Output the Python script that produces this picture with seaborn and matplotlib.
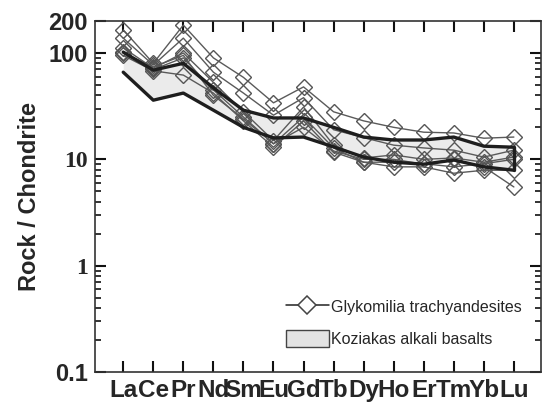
import numpy as np
import pandas as pd
import seaborn as sns
import matplotlib.pyplot as plt
from matplotlib.lines import Line2D
from matplotlib.patches import Patch
import matplotlib.ticker as ticker

sns.set_style("ticks")
plt.rcParams["font.family"] = ["Liberation Sans", "DejaVu Sans"]

# REE order
elements = ["La", "Ce", "Pr", "Nd", "Sm", "Eu", "Gd", "Tb", "Dy", "Ho", "Er", "Tm", "Yb", "Lu"]

# Glykomilia trachyandesites (chondrite normalised)
glyk_a = [165, 80, 183, 90, 59, 34, 48, 28, 23, 20, 18, 17.7, 15.8, 16.2]
glyk_b = [138, 77, 138, 66, 42, 26, 38, 19, 16, 13.6, 12.8, 12.2, 10.5, 12.2]
glyk_c = [112, 72, 100, 53, 28, 15, 31, 13.6, 10.3, 11, 10, 10.3, 9.4, 10.5]
glyk_d = [102, 70, 90, 45, 25, 14, 25, 12.8, 9.4, 9.4, 9.1, 8.5, 9.1, 10]
glyk_e = [95, 68, 62, 42, 23, 13, 23, 11.7, 9.4, 8.5, 8.5, 7.4, 7.9, 7.9]
glyk_f = [100, 74, 95, 40, 24, 14, 20, 12, 10, 10, 9, 10, 8.5, 5.5]
samples = [glyk_a, glyk_b, glyk_c, glyk_d, glyk_e, glyk_f]

# Koziakas alkali basalts field
kozi_upper = [102, 69, 80, 47, 29, 24.5, 24.5, 20, 16.2, 15.2, 15.2, 16.2, 13.3, 13.0]
kozi_lower = [66, 36, 42, 29, 20, 15.9, 16.2, 13.1, 10.5, 9.4, 9.0, 9.85, 8.5, 7.9]

pos = np.arange(len(elements))

fig = plt.figure(figsize=(5.42, 4.03), dpi=100)
ax = fig.add_axes([0.1747, 0.0769, 0.8233, 0.871])

# field
ax.fill_between(pos, kozi_lower, kozi_upper, color="#ebebeb", lw=0, zorder=1)

# samples
rows = []
for i, s in enumerate(samples):
    for p, v in zip(pos, s):
        rows.append({"sample": i, "pos": p, "value": v})
df = pd.DataFrame(rows)
for i, g in df.groupby("sample"):
    sns.lineplot(data=g, x="pos", y="value", ax=ax, color="#5a5a5a", lw=1.0,
                 marker="D", markersize=8.5, markerfacecolor="none",
                 markeredgecolor="#555555", markeredgewidth=1.0, zorder=2)

# field outline
ax.plot(pos, kozi_upper, color="#1e1e1e", lw=2.4, zorder=3)
ax.plot(pos, kozi_lower, color="#1e1e1e", lw=2.4, zorder=3)
ax.plot([pos[-1], pos[-1]], [kozi_lower[-1], kozi_upper[-1]], color="#1e1e1e", lw=2.4, zorder=3)

ax.set_yscale("log")
ax.set_ylim(0.1, 200)
ax.set_xlim(-0.95, 13.9)

ax.set_xticks(pos, labels=elements)
ax.set_yticks([0.1, 1, 10, 100, 200], labels=["0.1", "1", "10", "100", "200"])
ax.yaxis.set_minor_locator(ticker.LogLocator(base=10, subs=np.arange(2, 10)))
ax.yaxis.set_minor_formatter(ticker.NullFormatter())

ax.tick_params(axis="both", which="both", direction="in", top=True, right=True, color="#111111")
ax.tick_params(axis="x", which="major", length=8, width=1.5, labelsize=17.5, pad=5)
ax.tick_params(axis="y", which="major", length=8, width=1.5, labelsize=17, pad=5)
ax.tick_params(axis="y", which="minor", length=4, width=1.2)
for lbl in ax.get_xticklabels() + ax.get_yticklabels():
    lbl.set_fontweight("bold")
for lbl in ax.get_yticklabels():
    if lbl.get_text() in ("1", "10"):
        lbl.set_family("Liberation Serif")

for sp in ax.spines.values():
    sp.set_color("#333333")
    sp.set_linewidth(1.2)

ax.set_xlabel("")
ax.set_ylabel("Rock / Chondrite", fontsize=17, fontweight="bold")
ax.yaxis.set_label_coords(-0.12, 0.5)

handles = [
    Line2D([0], [0], color="#222222", lw=1.1, marker="D", markersize=9,
           markerfacecolor="white", markeredgecolor="#444444", markeredgewidth=1.1),
    Patch(facecolor="#e3e3e3", edgecolor="#444444", lw=1.0),
]
ax.legend(handles, ["Glykomilia trachyandesites", "Koziakas alkali basalts"],
          loc="lower right", bbox_to_anchor=(0.99, 0.03), frameon=False,
          fontsize=11.5, handlelength=2.7, handleheight=1.3, handletextpad=0.15,
          labelspacing=0.9)

fig.savefig("out.png", dpi=100)
